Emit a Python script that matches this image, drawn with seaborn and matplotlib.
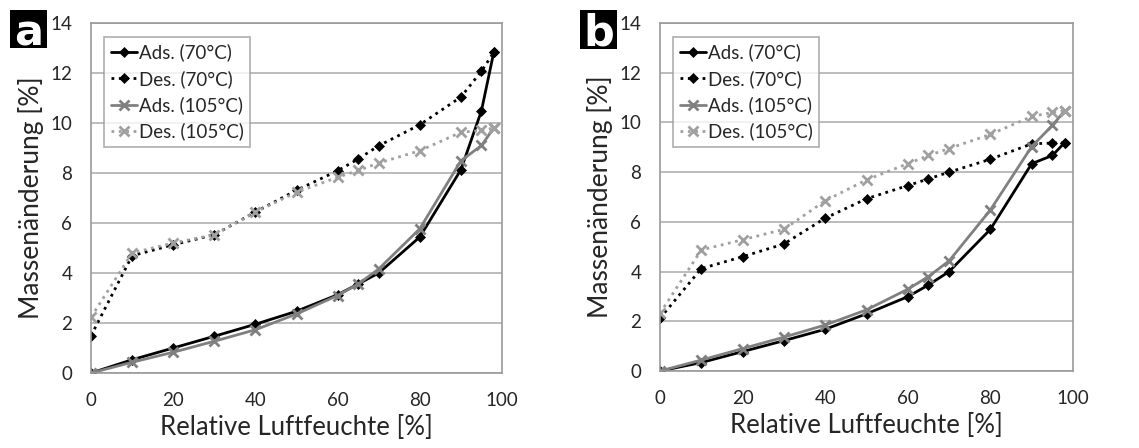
import matplotlib
matplotlib.use("Agg")
import matplotlib.pyplot as plt
import matplotlib.patches as mpatches
import seaborn as sns
import pandas as pd

rh = [0, 10, 20, 30, 40, 50, 60, 65, 70, 80, 90, 95, 98]

a_ads70 = [0, 0.53, 1.0, 1.47, 1.95, 2.47, 3.13, 3.56, 4.0, 5.44, 8.13, 10.49, 12.83]
a_des70 = [1.49, 4.69, 5.13, 5.53, 6.44, 7.31, 8.09, 8.56, 9.09, 9.93, 11.04, 12.07, 12.83]
a_ads105 = [0, 0.43, 0.83, 1.27, 1.73, 2.36, 3.1, 3.56, 4.16, 5.77, 8.49, 9.1, 9.8]
a_des105 = [2.23, 4.8, 5.2, 5.53, 6.44, 7.23, 7.83, 8.1, 8.4, 8.89, 9.63, 9.7, 9.8]

b_ads70 = [0, 0.34, 0.78, 1.22, 1.68, 2.3, 2.99, 3.46, 4.0, 5.7, 8.34, 8.67, 9.19]
b_des70 = [2.12, 4.12, 4.6, 5.11, 6.15, 6.93, 7.46, 7.73, 8.0, 8.52, 9.14, 9.17, 9.19]
b_ads105 = [0, 0.44, 0.9, 1.36, 1.85, 2.46, 3.29, 3.8, 4.43, 6.48, 9.03, 9.88, 10.47]
b_des105 = [2.32, 4.87, 5.28, 5.7, 6.85, 7.69, 8.34, 8.67, 8.95, 9.52, 10.24, 10.4, 10.47]

series_names = ["Ads. (70°C)", "Des. (70°C)", "Ads. (105°C)", "Des. (105°C)"]
panel_labels = ["a", "b"]
x_label = "Relative Luftfeuchte [%]"
y_label = "Massenänderung [%]"

sns.set_theme(style="white")
plt.rcParams['font.family'] = ['Lato', 'DejaVu Sans']

styles = [
    dict(color="black", linestyle="-", marker="D", markersize=5, markeredgecolor="black",
         markeredgewidth=0.5, linewidth=2.0),
    dict(color="black", linestyle=":", marker="D", markersize=5, markeredgecolor="black",
         markeredgewidth=0.5, linewidth=2.0),
    dict(color="#808080", linestyle="-", marker="x", markersize=7.5, markeredgecolor="#808080",
         markeredgewidth=2, linewidth=2.0),
    dict(color="#a0a0a0", linestyle=":", marker="x", markersize=7.5, markeredgecolor="#a0a0a0",
         markeredgewidth=2, linewidth=2.0),
]

W, H = 1139, 448
fig = plt.figure(figsize=(W / 100, H / 100), dpi=100)
positions = [[91 / W, 1 - 373 / H, 411 / W, 350 / H], [660 / W, 1 - 371 / H, 413 / W, 348 / H]]
panels = [[a_ads70, a_des70, a_ads105, a_des105], [b_ads70, b_des70, b_ads105, b_des105]]
box_px = [(10, 10, 37, 38), (580, 10, 37, 39)]
ylabel_coords = [(-0.115, 0.50), (-0.113, 0.50)]

for pos, data, lab, bp, ylc in zip(positions, panels, panel_labels, box_px, ylabel_coords):
    ax = fig.add_axes(pos)
    for name, vals, st in zip(series_names, data, styles):
        df = pd.DataFrame({"x": rh, "y": vals})
        sns.lineplot(data=df, x="x", y="y", ax=ax, label=name, sort=False, **st)
    ax.set_xlim(0, 100)
    ax.set_ylim(0, 14)
    ax.set_xticks(range(0, 101, 20))
    ax.set_yticks(range(0, 15, 2))
    ax.yaxis.grid(True, color="#b0b0b0", linewidth=1.2)
    ax.xaxis.grid(False)
    for sp in ax.spines.values():
        sp.set_color("#9a9a9a")
        sp.set_linewidth(1.2)
    ax.tick_params(axis="x", length=6, width=1.2, color="#9a9a9a", direction="out",
                   labelsize=13.5, pad=8)
    ax.tick_params(axis="y", length=0, labelsize=13.5, pad=13.5)
    ax.set_xlabel(x_label, fontsize=18.5, labelpad=4)
    ax.set_ylabel(y_label, fontsize=19)
    ax.yaxis.set_label_coords(*ylc)
    leg = ax.legend(loc="upper left", bbox_to_anchor=(0.032, 0.96), fontsize=13.5,
                    frameon=True, fancybox=False, edgecolor="#9a9a9a",
                    handlelength=1.4, handletextpad=0.1, borderpad=0.35,
                    labelspacing=0.45, borderaxespad=0)
    leg.get_frame().set_linewidth(1.2)
    x0, y0, bw, bh = bp
    rect = mpatches.Rectangle((x0 / W, 1 - (y0 + bh) / H), bw / W, bh / H,
                              transform=fig.transFigure, facecolor="black",
                              edgecolor="none", zorder=5)
    fig.patches.append(rect)
    fig.text((x0 + bw / 2) / W, 1 - (y0 + bh / 2) / H, lab, fontsize=31,
             fontweight="bold", color="white", family="DejaVu Sans",
             ha="center", va="center_baseline", zorder=6)

fig.savefig("out.png", dpi=100)
